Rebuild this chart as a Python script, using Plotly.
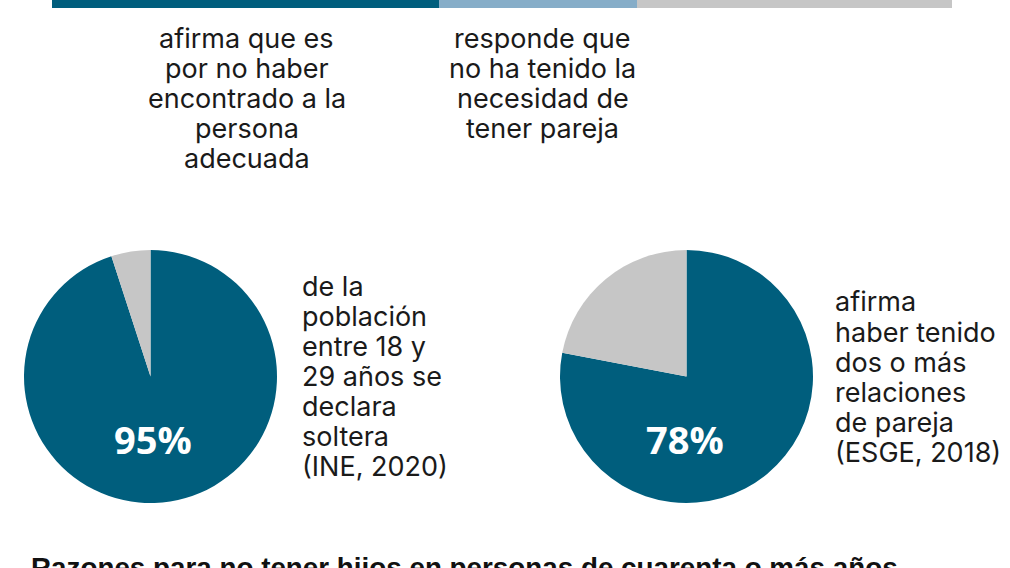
import plotly.graph_objects as go

W, H = 1010, 568

# Data
bar_categories = ["encontrar persona adecuada", "no necesidad de pareja", "otros"]
bar_values = [43, 22, 35]
bar_colors = ["#005e7d", "#86adc8", "#c6c6c6"]

pie1_labels = ["soltera", "resto"]
pie1_values = [95, 5]
pie2_labels = ["dos o más relaciones", "resto"]
pie2_values = [78, 22]
pie_colors = ["#005e7d", "#c6c6c6"]

pie1_label = "95%"
pie2_label = "78%"

top_left_lines = ["afirma que es", "por no haber", "encontrado a la", "persona", "adecuada"]
top_right_lines = ["responde que", "no ha tenido la", "necesidad de", "tener pareja"]
pie1_lines = ["de la", "población", "entre 18 y", "29 años se", "declara", "soltera", "(INE, 2020)"]
pie2_lines = ["afirma", "haber tenido", "dos o más", "relaciones", "de pareja", "(ESGE, 2018)"]
bottom_title = "Razones para no tener hijos en personas de cuarenta o más años"


def px_x(x):
    return x / W


def px_y(y):
    return 1 - y / H


fig = go.Figure()

for cat, val, col in zip(bar_categories, bar_values, bar_colors):
    fig.add_trace(go.Bar(
        x=[val], y=[0], orientation="h", name=cat,
        marker=dict(color=col, line=dict(width=0)),
        width=1, xaxis="x", yaxis="y", hoverinfo="skip",
    ))

fig.add_trace(go.Pie(
    labels=pie1_labels, values=pie1_values, sort=False, direction="clockwise",
    rotation=0, marker=dict(colors=pie_colors, line=dict(width=0)),
    textinfo="none", hoverinfo="skip",
    domain=dict(x=[px_x(24), px_x(277)], y=[px_y(503), px_y(250)]),
))
fig.add_trace(go.Pie(
    labels=pie2_labels, values=pie2_values, sort=False, direction="clockwise",
    rotation=0, marker=dict(colors=pie_colors, line=dict(width=0)),
    textinfo="none", hoverinfo="skip",
    domain=dict(x=[px_x(560), px_x(813)], y=[px_y(503), px_y(250)]),
))

BODY_SIZE = 27
body_font = dict(family="Inter, Liberation Sans, sans-serif", size=BODY_SIZE, color="#1a1a1a")
pct_font = dict(family="Open Sans, Liberation Sans, sans-serif", size=38, color="white")

annotations = []


def add_lines(lines, x, first_baseline, spacing, xanchor, align):
    for i, line in enumerate(lines):
        baseline = first_baseline + i * spacing
        annotations.append(dict(
            text=line, x=px_x(x), y=px_y(baseline - 0.363 * BODY_SIZE),
            xanchor=xanchor, yanchor="middle", align=align, font=body_font,
            borderpad=0,
        ))


add_lines(top_left_lines, 246.5, 48.3, 30.0, "center", "center")
add_lines(top_right_lines, 542.5, 48.3, 30.0, "center", "center")
add_lines(pie1_lines, 300.5, 296.0, 30.1, "left", "left")
add_lines(pie2_lines, 834, 311.7, 30.2, "left", "left")

annotations += [
    dict(text="<b>" + pie1_label + "</b>", x=px_x(153), y=px_y(438.5), xanchor="center",
         yanchor="middle", font=pct_font),
    dict(text="<b>" + pie2_label + "</b>", x=px_x(684.5), y=px_y(438.5), xanchor="center",
         yanchor="middle", font=pct_font),
    dict(text="<b>" + bottom_title + "</b>", x=px_x(29), y=px_y(550), xanchor="left",
         yanchor="top", align="left",
         font=dict(family="Liberation Sans, Arial, sans-serif", size=27.8, color="#111111")),
]
for a in annotations:
    a.update(xref="paper", yref="paper", showarrow=False)

fig.update_layout(
    width=W, height=H,
    margin=dict(l=0, r=0, t=0, b=0),
    paper_bgcolor="white", plot_bgcolor="white",
    showlegend=False, barmode="stack", bargap=0,
    xaxis=dict(domain=[px_x(52), px_x(952)], range=[0, sum(bar_values)], visible=False,
               fixedrange=True),
    yaxis=dict(domain=[px_y(8), 1], range=[-0.5, 0.5], visible=False, fixedrange=True),
    annotations=annotations,
)

fig.write_html(
    "out.html",
    config=dict(displayModeBar=False),
    post_script="document.body.style.margin='0';document.body.style.overflow='hidden';",
)
